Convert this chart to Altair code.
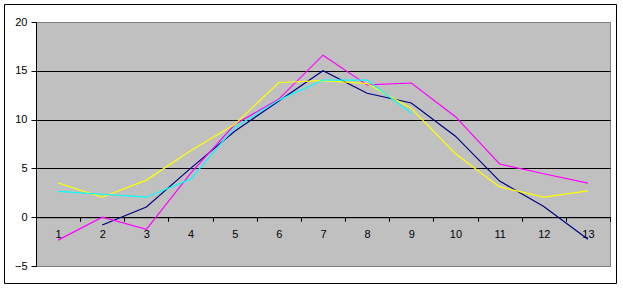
import altair as alt
import pandas as pd

categories = [str(i) for i in range(1, 14)]

navy = [None, -0.8, 1.05, 5.0, 8.8, 11.9, 15.0, 12.7, 11.7, 8.3, 3.7, 1.1, -2.25]
magenta = [-2.35, 0.0, -1.25, 4.5, 9.5, 12.1, 16.6, 13.55, 13.75, 10.3, 5.45, 4.45, 3.5]
yellow = [3.5, 2.05, 3.8, 6.8, 9.5, 13.8, 14.0, 13.7, 11.15, 6.5, 3.1, 2.05, 2.7]
cyan = [2.65, 2.35, 2.05, 3.9, 9.2, 12.0, 14.05, 14.05, 10.65, None, None, None, None]

series_names = ["A", "B", "C", "D"]
series_values = [navy, magenta, yellow, cyan]
series_colors = ["#000080", "#FF00FF", "#FFFF00", "#00FFFF"]

y_ticks = [-5, 0, 5, 10, 15, 20]

rows = []
for name, vals in zip(series_names, series_values):
    for c, v in zip(categories, vals):
        if v is not None:
            rows.append({"cat": c, "value": v, "series": name})
df = pd.DataFrame(rows)

W, H = 574, 244
FONT = "Liberation Sans"

x_enc = alt.X(
    "cat:N",
    sort=categories,
    bandPosition=0.5,
    scale=alt.Scale(type="band", domain=categories, paddingInner=0, paddingOuter=0),
    axis=alt.Axis(
        title=None,
        orient="bottom",
        offset=-H * 5 / 25,
        labelAngle=0,
        tickBand="extent",
        tickSize=4,
        labelPadding=7,
        domainColor="black",
        tickColor="black",
        labelColor="black",
        labelFont=FONT,
        labelFontSize=11,
        grid=False,
    ),
)

y_enc = alt.Y(
    "value:Q",
    scale=alt.Scale(domain=[-5, 20], nice=False, zero=False),
    axis=alt.Axis(
        title=None,
        values=y_ticks,
        tickSize=5,
        labelPadding=4,
        domainColor="black",
        tickColor="black",
        labelColor="black",
        labelFont=FONT,
        labelFontSize=11,
        grid=True,
        gridColor=alt.condition(
            "datum.value == 20 || datum.value == -5",
            alt.value("#808080"),
            alt.value("black"),
        ),
        gridOpacity=1,
        gridWidth=1,
    ),
)

lines = alt.Chart(df).mark_line(strokeWidth=1.2).encode(
    x=x_enc,
    y=y_enc,
    color=alt.Color(
        "series:N",
        scale=alt.Scale(domain=series_names, range=series_colors),
        legend=None,
    ),
    order=alt.Order("cat_order:Q"),
).transform_calculate(cat_order="toNumber(datum.cat)")

border = alt.Chart(pd.DataFrame({"a": [0]})).mark_rect(
    fillOpacity=0, stroke="black", strokeWidth=1
).encode(
    x=alt.value(-31.5), x2=alt.value(580.5), y=alt.value(-17.5), y2=alt.value(261.5)
)

chart = alt.layer(lines, border).properties(
    width=W,
    height=H,
    autosize=alt.AutoSizeParams(type="none"),
    padding={"left": 36, "top": 22, "right": 13, "bottom": 22},
    background="white",
).configure_view(
    fill="#C0C0C0", stroke="#808080", strokeWidth=1
)

chart.save("out.html", embed_options={"renderer": "svg", "actions": False})
